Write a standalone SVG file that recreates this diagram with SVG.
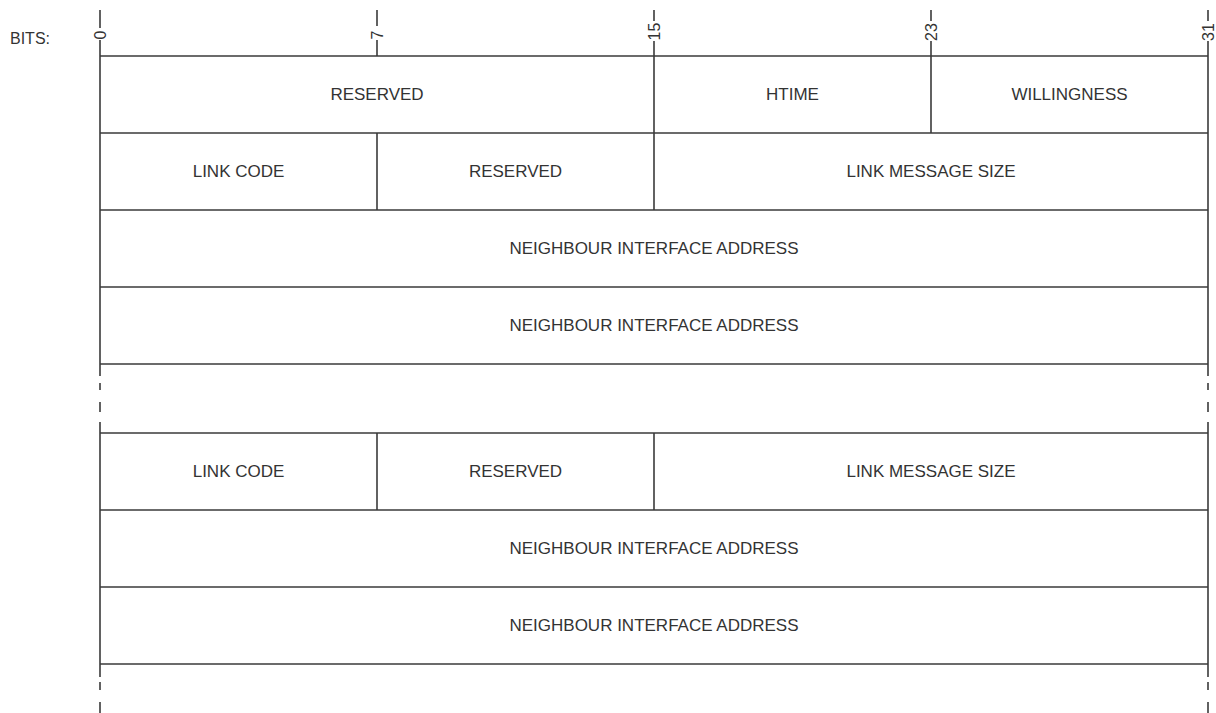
<svg xmlns="http://www.w3.org/2000/svg" width="1216" height="713" viewBox="0 0 1216 713">
<style>
.ln{stroke:#3a3a3a;stroke-width:1.6;fill:none}
.t{font-family:"Liberation Sans",Arial,sans-serif;font-size:17px;fill:#333;text-anchor:middle}
.b{font-family:"Liberation Sans",Arial,sans-serif;font-size:16px;fill:#333}
.bg{fill:#fff}
</style>
<rect width="1216" height="713" fill="#fff"/>
<g id="bits">
<text class="b" x="10" y="44">BITS:</text>
<g class="ln">
<line x1="100" y1="10" x2="100" y2="56"/>
<line x1="377" y1="10" x2="377" y2="56"/>
<line x1="654" y1="10" x2="654" y2="56"/>
<line x1="931" y1="10" x2="931" y2="56"/>
<line x1="1208" y1="10" x2="1208" y2="56"/>
</g>
<rect class="bg" x="94" y="28" width="12" height="12"/>
<rect class="bg" x="371" y="26" width="12" height="14"/>
<rect class="bg" x="648" y="21" width="12" height="20"/>
<rect class="bg" x="925" y="21" width="12" height="20"/>
<rect class="bg" x="1202" y="21" width="12" height="20"/>
<text class="b" transform="translate(105.5,39.5) rotate(-90)">0</text>
<text class="b" transform="translate(382.5,39.5) rotate(-90)">7</text>
<text class="b" transform="translate(659.5,40.5) rotate(-90)">15</text>
<text class="b" transform="translate(936.5,41) rotate(-90)">23</text>
<text class="b" transform="translate(1213.5,41) rotate(-90)">31</text>
</g>
<g id="connectors" class="ln">
<line x1="100" y1="56" x2="1208" y2="56"/>
<line x1="100" y1="133" x2="1208" y2="133"/>
<line x1="100" y1="210" x2="1208" y2="210"/>
<line x1="100" y1="287" x2="1208" y2="287"/>
<line x1="100" y1="364" x2="1208" y2="364"/>
<line x1="100" y1="433" x2="1208" y2="433"/>
<line x1="100" y1="510" x2="1208" y2="510"/>
<line x1="100" y1="587" x2="1208" y2="587"/>
<line x1="100" y1="664" x2="1208" y2="664"/>
<line x1="100" y1="56" x2="100" y2="376"/>
<line x1="1208" y1="56" x2="1208" y2="376"/>
<line x1="100" y1="383" x2="100" y2="390"/>
<line x1="1208" y1="383" x2="1208" y2="390"/>
<line x1="100" y1="402" x2="100" y2="412"/>
<line x1="1208" y1="402" x2="1208" y2="412"/>
<line x1="100" y1="422" x2="100" y2="677"/>
<line x1="1208" y1="422" x2="1208" y2="677"/>
<line x1="100" y1="682" x2="100" y2="690"/>
<line x1="1208" y1="682" x2="1208" y2="690"/>
<line x1="100" y1="702" x2="100" y2="713"/>
<line x1="1208" y1="702" x2="1208" y2="713"/>
<line x1="654" y1="56" x2="654" y2="210"/>
<line x1="931" y1="56" x2="931" y2="133"/>
<line x1="377" y1="133" x2="377" y2="210"/>
<line x1="377" y1="433" x2="377" y2="510"/>
<line x1="654" y1="433" x2="654" y2="510"/>
</g>
<g id="row1">
<text class="t" x="377" y="100">RESERVED</text>
<text class="t" x="792.5" y="100">HTIME</text>
<text class="t" x="1069.5" y="100">WILLINGNESS</text>
</g>
<g id="row2">
<text class="t" x="238.5" y="177">LINK CODE</text>
<text class="t" x="515.5" y="177">RESERVED</text>
<text class="t" x="931" y="177">LINK MESSAGE SIZE</text>
</g>
<g id="row3"><text class="t" x="654" y="254">NEIGHBOUR INTERFACE ADDRESS</text></g>
<g id="row4"><text class="t" x="654" y="331">NEIGHBOUR INTERFACE ADDRESS</text></g>
<g id="row5">
<text class="t" x="238.5" y="477">LINK CODE</text>
<text class="t" x="515.5" y="477">RESERVED</text>
<text class="t" x="931" y="477">LINK MESSAGE SIZE</text>
</g>
<g id="row6"><text class="t" x="654" y="554">NEIGHBOUR INTERFACE ADDRESS</text></g>
<g id="row7"><text class="t" x="654" y="631">NEIGHBOUR INTERFACE ADDRESS</text></g>
</svg>
